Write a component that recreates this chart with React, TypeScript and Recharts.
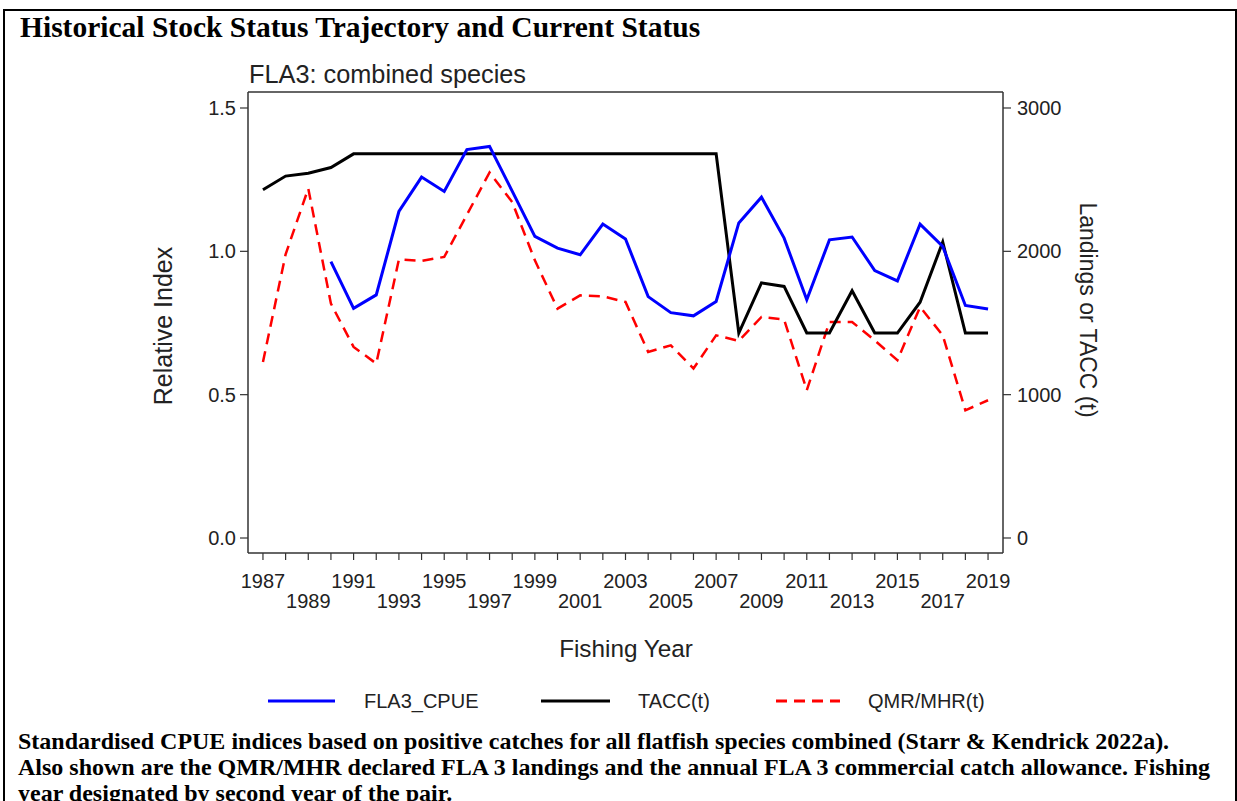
import React from 'react';
import { LineChart, Line, XAxis, YAxis, ReferenceLine } from 'recharts';

const years = [1987, 1988, 1989, 1990, 1991, 1992, 1993, 1994, 1995, 1996, 1997, 1998, 1999, 2000, 2001, 2002, 2003, 2004, 2005, 2006, 2007, 2008, 2009, 2010, 2011, 2012, 2013, 2014, 2015, 2016, 2017, 2018, 2019];
const cpue = [null, null, null, 0.964, 0.801, 0.848, 1.139, 1.259, 1.209, 1.355, 1.366, 1.21, 1.052, 1.011, 0.988, 1.095, 1.043, 0.842, 0.786, 0.775, 0.825, 1.099, 1.189, 1.046, 0.831, 1.04, 1.05, 0.933, 0.897, 1.095, 1.017, 0.811, 0.799];
const tacc = [2430, 2525, 2545, 2585, 2680, 2680, 2680, 2680, 2680, 2680, 2680, 2680, 2680, 2680, 2680, 2680, 2680, 2680, 2680, 2680, 2680, 1430, 1780, 1755, 1430, 1430, 1725, 1430, 1430, 1645, 2065, 1430, 1430];
const qmr = [1228, 1979, 2438, 1635, 1333, 1217, 1943, 1933, 1961, 2255, 2550, 2344, 1937, 1600, 1693, 1686, 1647, 1298, 1344, 1182, 1414, 1375, 1542, 1524, 1031, 1507, 1507, 1379, 1240, 1612, 1414, 891, 961];

const leftTicks = [0, 0.5, 1.0, 1.5];
const rightTicks = [0, 1000, 2000, 3000];
const leftDomain = [-0.0523, 1.5558];
const rightDomain = [-104.7, 3111.6];
const xDomain = [1986.34, 2019.66];

const data = years.map((y, i) => ({ year: y, cpue: cpue[i], tacc: tacc[i], qmr: qmr[i] }));

const SANS = '"Liberation Sans", Arial, Helvetica, sans-serif';
const SERIF = '"Liberation Serif", "Times New Roman", Times, serif';

const XTick = (props: any) => {
  const { x, y, payload } = props;
  const v = payload.value as number;
  if ((v - 1987) % 2 !== 0) return <g />;
  const row = ((v - 1987) / 2) % 2;
  return (
    <text x={x} y={y + (row === 0 ? 28 : 48)} textAnchor="middle" fontSize={20} fontFamily={SANS} fill="#222">
      {v}
    </text>
  );
};

const captionLines = [
  'Standardised CPUE indices based on positive catches for all flatfish species combined (Starr & Kendrick 2022a).',
  'Also shown are the QMR/MHR declared FLA 3 landings and the annual FLA 3 commercial catch allowance. Fishing',
  'year designated by second year of the pair.',
];

const legendItems = [
  { label: 'FLA3_CPUE', color: '#0000ff', dash: undefined as string | undefined, x1: 268, x2: 335, tx: 364 },
  { label: 'TACC(t)', color: '#000000', dash: undefined as string | undefined, x1: 541, x2: 610, tx: 638 },
  { label: 'QMR/MHR(t)', color: '#ff0000', dash: '11 7', x1: 776, x2: 840, tx: 868 },
];

export default function App() {
  return (
    <div style={{ position: 'absolute', left: 0, top: 0, width: 1237, height: 801, overflow: 'hidden', background: '#fff' }}>
      <div style={{ position: 'absolute', left: 3, top: 9, width: 1230, height: 900, borderLeft: '2px solid #000', borderTop: '2px solid #000', borderRight: '2px solid #000' }} />
      <div style={{ position: 'absolute', left: 0, top: 0 }}>
        <LineChart width={1237} height={801} data={data} margin={{ top: 92, right: 0, bottom: 0, left: 0 }}>
          <XAxis
            dataKey="year"
            type="number"
            domain={xDomain}
            allowDataOverflow
            ticks={years}
            interval={0}
            height={248}
            tickSize={7}
            tickMargin={0}
            tick={<XTick />}
            axisLine={{ stroke: '#333', strokeWidth: 1.5 }}
            tickLine={{ stroke: '#333', strokeWidth: 1.2 }}
          />
          <YAxis
            yAxisId="left"
            orientation="left"
            width={248}
            domain={leftDomain}
            allowDataOverflow
            ticks={leftTicks}
            tickFormatter={(v: number) => v.toFixed(1)}
            tickSize={8}
            tickMargin={4}
            tick={{ fontSize: 20, fontFamily: SANS, fill: '#222' }}
            axisLine={{ stroke: '#333', strokeWidth: 1.5 }}
            tickLine={{ stroke: '#333', strokeWidth: 1.2 }}
          />
          <YAxis
            yAxisId="right"
            orientation="right"
            width={234}
            domain={rightDomain}
            allowDataOverflow
            ticks={rightTicks}
            tickSize={8}
            tickMargin={6}
            tick={{ fontSize: 20, fontFamily: SANS, fill: '#222' }}
            axisLine={{ stroke: '#333', strokeWidth: 1.5 }}
            tickLine={{ stroke: '#333', strokeWidth: 1.2 }}
          />
          <ReferenceLine yAxisId="left" y={leftDomain[1]} stroke="#333" strokeWidth={1.5} />
          <Line yAxisId="right" dataKey="qmr" stroke="#ff0000" strokeWidth={2.5} strokeDasharray="11 7" dot={false} activeDot={false} isAnimationActive={false} />
          <Line yAxisId="right" dataKey="tacc" stroke="#000000" strokeWidth={3} dot={false} activeDot={false} isAnimationActive={false} />
          <Line yAxisId="left" dataKey="cpue" stroke="#0000ff" strokeWidth={3} dot={false} activeDot={false} isAnimationActive={false} />
        </LineChart>
      </div>
      <svg width={1237} height={801} style={{ position: 'absolute', left: 0, top: 0, pointerEvents: 'none' }}>
        <text x={20} y={37} fontFamily={SERIF} fontWeight="bold" fontSize={29.5} fill="#000">
          Historical Stock Status Trajectory and Current Status
        </text>
        <text x={249} y={83} fontFamily={SANS} fontSize={25.3} fill="#222">
          FLA3: combined species
        </text>
        <text x={626} y={657} textAnchor="middle" fontFamily={SANS} fontSize={24.3} fill="#222">
          Fishing Year
        </text>
        <text x={163} y={326} transform="rotate(-90 163 326)" textAnchor="middle" dominantBaseline="central" fontFamily={SANS} fontSize={25} fill="#222">
          Relative Index
        </text>
        <text x={1088} y={310} transform="rotate(90 1088 310)" textAnchor="middle" dominantBaseline="central" fontFamily={SANS} fontSize={23} fill="#222">
          Landings or TACC (t)
        </text>
        {legendItems.map((it) => (
          <g key={it.label}>
            <line x1={it.x1} x2={it.x2} y1={701} y2={701} stroke={it.color} strokeWidth={3} strokeDasharray={it.dash} />
            <text x={it.tx} y={708} fontFamily={SANS} fontSize={20} fill="#222">
              {it.label}
            </text>
          </g>
        ))}
        {captionLines.map((ln, i) => (
          <text key={i} x={18} y={749 + i * 26} fontFamily={SERIF} fontWeight="bold" fontSize={24} fill="#000">
            {ln}
          </text>
        ))}
      </svg>
    </div>
  );
}
